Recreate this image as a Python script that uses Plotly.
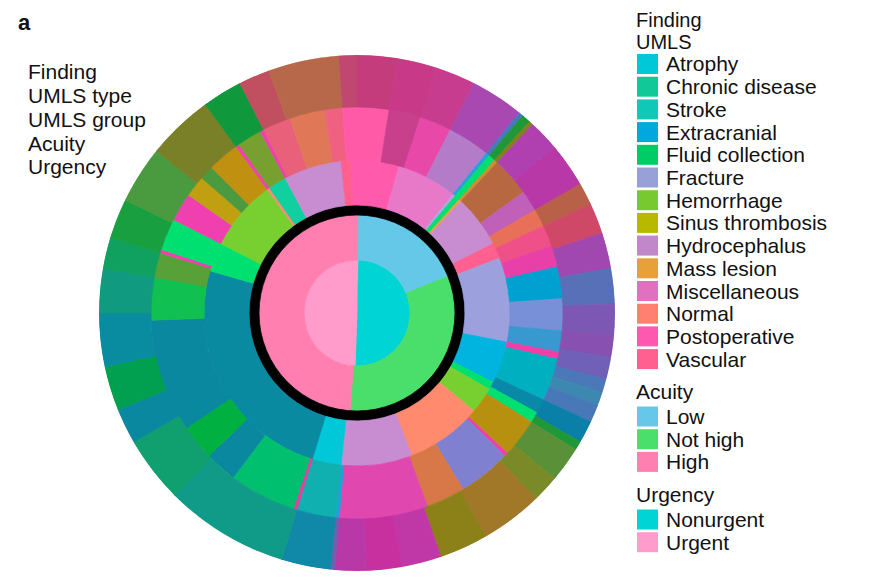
import itertools
import plotly.graph_objects as go

W, H = 872, 586
# the page puts the figure 8px in from its top-left corner
OX, OY = 8, 8

# ------------------------------------------------------------------
# Legend categories and colours
# ------------------------------------------------------------------
umls_categories = ["Atrophy", "Chronic disease", "Stroke", "Extracranial",
                   "Fluid collection", "Fracture", "Hemorrhage", "Sinus thrombosis",
                   "Hydrocephalus", "Mass lesion", "Miscellaneous", "Normal",
                   "Postoperative", "Vascular"]
umls_colors = ["#00c8d8", "#10c898", "#10c8b8", "#00a8e0", "#00cc66", "#98a0d8",
               "#78c830", "#b8b800", "#c088c8", "#e8a038", "#e070c0", "#ff8070",
               "#ff58b0", "#ff6090"]
acuity_levels = ["Low", "Not high", "High"]
acuity_colors = ["#66c8e8", "#4ade6a", "#ff80b0"]
urgency_levels = ["Nonurgent", "Urgent"]
urgency_colors = ["#00d4d4", "#ff9ccc"]

# ------------------------------------------------------------------
# Ring segments, clockwise from 12 o'clock (share of circle, degrees)
# ------------------------------------------------------------------
urgency_seg = ["Urgent", "Nonurgent", "Urgent"]
urgency_share = [2, 180, 178]

acuity_seg = ["High", "Low", "Not high", "High"]
acuity_share = [1, 67, 116, 176]

group_seg = ["Postoperative", "Miscellaneous", "Fracture", "Fluid collection",
             "Mass lesion", "Hydrocephalus", "Vascular", "Fracture", "Extracranial",
             "Fluid collection", "Hemorrhage", "Normal", "Hydrocephalus", "Atrophy",
             "Extracranial", "Fluid collection", "Hemorrhage", "Normal",
             "Chronic disease", "Hydrocephalus", "Vascular", "Postoperative"]
group_share = [16, 23, 1, 2, 1, 20, 6, 32, 16, 3, 10, 29, 27, 11, 89, 11, 27, 1,
               7, 22, 4, 2]
group_colors = ["#ff5aac", "#e878c8", "#a8a8e0", "#00e070", "#e8a040", "#c88cd0",
                "#ff6090", "#9ca0dc", "#00b4e0", "#00e070", "#78d030", "#ff8a6e",
                "#c88cd0", "#00c8d8", "#0a8aa0", "#00e070", "#78d030", "#ff8a70",
                "#10d0a0", "#c88cd0", "#ff6090", "#ff5aac"]

type_share = [9, 9, 9, 12, 1, 2, 1, 11, 6, 5, 6, 6, 9, 9, 6, 2, 12, 4, 3, 11, 1,
              15, 11, 25, 1, 11, 1, 19, 9, 10, 32, 12, 7, 1, 9, 8, 6, 4, 9, 1, 7,
              1, 8, 10, 5, 4]
type_colors = ["#ff5aa8", "#c8408c", "#e848a8", "#b47cc8", "#2aa0d8", "#00e070",
               "#c89030", "#b86840", "#c060b8", "#e87058", "#f05088", "#e840a8",
               "#00a0d0", "#7890d8", "#3898d0", "#f040a8", "#00b0c0", "#0a88a8",
               "#00e070", "#b89010", "#f040a8", "#8080d0", "#d87848", "#e048b0",
               "#20a0d8", "#10b0b0", "#e040a0", "#00c070", "#0a88a0", "#00b040",
               "#0a88a0", "#10c050", "#58a038", "#f040b0", "#00e070", "#f040b0",
               "#c0a010", "#4c9a40", "#c09010", "#f040b0", "#78a030", "#f040b0",
               "#e8607a", "#e07858", "#f06080", "#ff5aa8"]

finding_share = [9, 9, 9, 12, 1, 2, 1, 7, 10, 5, 7, 8, 8, 7, 5, 5, 3, 3, 4, 5, 2,
                 8, 6, 14, 11, 9, 8, 7, 1, 11, 28, 15, 8, 10, 12, 10, 7, 9, 13, 15,
                 9, 7, 16, 4]
finding_colors = ["#c43c7c", "#c83a88", "#c83c90", "#a848b0", "#4878c0", "#209838",
                  "#808020", "#b040b0", "#b838a8", "#b86048", "#d04868", "#a048b0",
                  "#5870b8", "#7c58b4", "#8850b0", "#7060b8", "#4a78b8", "#3c88b0",
                  "#4878b8", "#0a80a8", "#209838", "#5a9038", "#7a8a28", "#a07828",
                  "#8c8018", "#c038a8", "#c830a0", "#b838a8", "#7060b0", "#1088a8",
                  "#109a88", "#10a070", "#0a88a0", "#00a050", "#0a8ca0", "#109a80",
                  "#10a060", "#18a040", "#4a9a40", "#7a8028", "#10983c", "#c05060",
                  "#b8684a", "#c04870"]


def ring(share, colors, r0, r1, labels):
    ends = list(itertools.accumulate(share))
    centers = [e - s / 2 for e, s in zip(ends, share)]
    return go.Barpolar(
        r=[r1 - r0] * len(share),
        base=r0,
        theta=centers,
        width=share,
        marker=dict(color=colors, line=dict(color=colors, width=0.8)),
        hovertext=labels,
        hoverinfo="text",
        showlegend=False,
    )


urg_col = dict(zip(urgency_levels, urgency_colors))
acu_col = dict(zip(acuity_levels, acuity_colors))

fig = go.Figure()
fig.add_trace(ring(urgency_share, [urg_col[s] for s in urgency_seg], 0, 53, urgency_seg))
fig.add_trace(ring(acuity_share, [acu_col[s] for s in acuity_seg], 53, 98, acuity_seg))
fig.add_trace(ring([180, 180], ["#000000", "#000000"], 98, 108, ["", ""]))
fig.add_trace(ring(group_share, group_colors, 108, 153, group_seg))
fig.add_trace(ring(type_share, type_colors, 153, 206, ["UMLS type"] * len(type_share)))
fig.add_trace(ring(finding_share, finding_colors, 206, 258,
                   ["Finding"] * len(finding_share)))

# ------------------------------------------------------------------
# Text + legend (drawn by hand so the swatches match the figure)
# ------------------------------------------------------------------
FONT = "Liberation Sans, Arial, Helvetica, sans-serif"


def px(x, y):
    # page pixel -> paper fraction
    return (x - OX) / W, 1 - (y - OY) / H


annotations = []
shapes = []


def add_text(text, x, y, size=21, bold=False, box_h=None):
    # x is where the glyphs start, annotations pad ~3px on the left
    xx, yy = px(x - 3, y)
    annotations.append(dict(
        text=f"<b>{text}</b>" if bold else text, x=xx, y=yy, xref="paper", yref="paper",
        xanchor="left", yanchor="middle", showarrow=False, height=box_h,
        font=dict(family=FONT, size=size, color="#111111"),
    ))


add_text("a", 19, 22, size=22, bold=True)
for i, lab in enumerate(["Finding", "UMLS type", "UMLS group", "Acuity", "Urgency"]):
    add_text(lab, 29, 71 + 24 * i)

add_text("Finding", 637, 20, size=20, box_h=22)
add_text("UMLS", 637, 42, size=20, box_h=22)


def add_block(labels, colors, y0):
    for i, (lab, col) in enumerate(zip(labels, colors)):
        yc = y0 + 22.7 * i
        x0, y_top = px(637, yc - 10)
        x1, y_bot = px(658, yc + 10)
        shapes.append(dict(type="rect", xref="paper", yref="paper", x0=x0, x1=x1,
                           y0=y_bot, y1=y_top, fillcolor=col, line=dict(width=0)))
        add_text(lab, 667, yc)


add_block(umls_categories, umls_colors, 64)
add_text("Acuity", 637, 391)
add_block(acuity_levels, acuity_colors, 416.5)
add_text("Urgency", 637, 494)
add_block(urgency_levels, urgency_colors, 519.5)

# polar circle: page centre (357, 313), radius 258
cx, cy, R = 357, 313, 258
dx0, dy1 = px(cx - R, cy - R)
dx1, dy0 = px(cx + R, cy + R)

fig.update_layout(
    width=W,
    height=H,
    margin=dict(l=0, r=0, t=0, b=0),
    paper_bgcolor="white",
    plot_bgcolor="white",
    showlegend=False,
    polar=dict(
        domain=dict(x=[dx0, dx1], y=[dy0, dy1]),
        bgcolor="white",
        radialaxis=dict(range=[0, 258], visible=False),
        angularaxis=dict(rotation=90, direction="clockwise", visible=False),
        bargap=0,
    ),
    annotations=annotations,
    shapes=shapes,
)

fig.write_html("out.html")
